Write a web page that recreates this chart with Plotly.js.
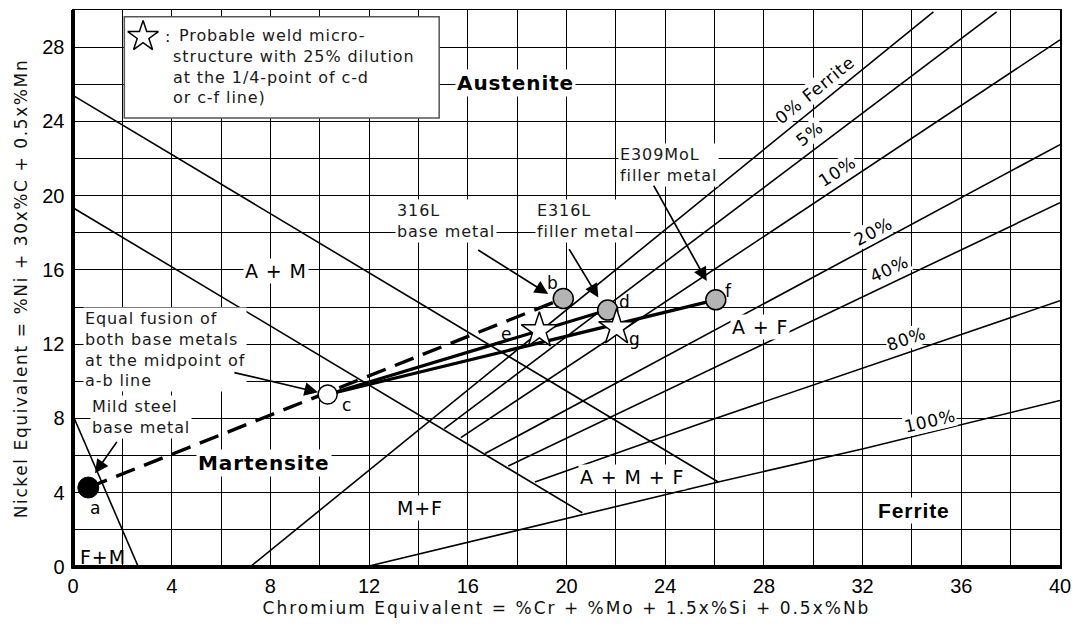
<!DOCTYPE html>
<html>
<head>
<meta charset="utf-8">
<script src="https://cdn.plot.ly/plotly-3.0.1.min.js"></script>
<style>
  html, body { margin: 0; padding: 0; background: #fff; }
  #chart { width: 1074px; height: 626px; }
  .annotation-text { letter-spacing: 0.9px; }
  .xtitle { letter-spacing: 2px; }
  .ytitle { letter-spacing: 1.6px; }
  .xgrid, .ygrid { shape-rendering: crispEdges; }
</style>
</head>
<body>
<div id="chart"></div>
<script>
// ---------- phase-boundary lines (Cr eq, Ni eq) ----------
const austMartX = [0, 26.15];      const austMartY = [25.4, 4.58];
const martLowerX = [0, 20.64];     const martLowerY = [19.35, 2.92];
const ferMartX = [0, 2.65];        const ferMartY = [8.16, 0];
const ferrite0X = [7.17, 34.87];   const ferrite0Y = [0, 29.9];
const ferrite5X = [15.05, 37.43];  const ferrite5Y = [7.45, 29.9];
const ferrite10X = [15.72, 40];    const ferrite10Y = [6.97, 28.39];
const ferrite20X = [16.70, 40];    const ferrite20Y = [6.11, 22.75];
const ferrite40X = [17.64, 40];    const ferrite40Y = [5.44, 19.62];
const ferrite80X = [18.72, 25.41, 40]; const ferrite80Y = [4.58, 7.72, 14.34];
const ferrite100X = [11.83, 26.15, 32.03, 40]; const ferrite100Y = [0, 4.58, 6.37, 8.97];

// ---------- metals ----------
const pointA = [0.62, 4.28];   // mild steel base metal
const pointB = [19.87, 14.46]; // 316L base metal
const pointC = [10.32, 9.29];  // equal fusion midpoint
const pointD = [21.67, 13.84]; // E316L filler
const pointF = [26.05, 14.39]; // E309MoL filler
const pointE = [18.90, 12.73]; // 25% dilution c-d
const pointG = [22.03, 12.90]; // 25% dilution c-f
const greyPtsX = [pointB[0], pointD[0], pointF[0]];
const greyPtsY = [pointB[1], pointD[1], pointF[1]];
const starPtsX = [pointE[0], pointG[0]];
const starPtsY = [pointE[1], pointG[1]];
const legendStar = [2.84, 28.57];

// point letters
const letterText = ['a','b','c','d','e','f','g'];
const letterX = [0.93, 19.45, 11.09, 22.37, 17.58, 26.56, 22.78];
const letterY = [3.17, 15.32, 8.70, 14.25, 12.55, 14.88, 12.28];

// region labels
const regionText = ['Austenite','A + M','Martensite','M+F','A + M + F','A + F','Ferrite','F+M'];
const regionX = [17.95, 8.23, 7.74, 14.06, 22.65, 27.84, 34.08, 1.22];
const regionY = [26.05, 15.95, 5.58, 3.17, 4.83, 12.90, 3.06, 0.56];

// ferrite % labels
const pctText = ['0% Ferrite','5%','10%','20%','40%','80%','100%'];
const pctX = [30.07, 29.83, 31.00, 32.46, 33.07, 33.76, 34.73];
const pctY = [25.67, 23.34, 21.32, 18.10, 16.06, 12.30, 7.84];
const pctAngle = [-39, -37, -33, -28, -25, -19, -13];

// callouts: text, text-left x, text centre y, arrow tail, arrow tip
const calloutText = ['Mild steel<br>base metal',
  'Equal fusion of<br>both base metals<br>at the midpoint of<br>a-b line',
  '316L<br>base metal', 'E316L<br>filler metal', 'E309MoL<br>filler metal'];
const calloutX = [0.69, 0.41, 13.05, 18.72, 22.09];
const calloutY = [8.08, 11.71, 18.64, 18.64, 21.67];
const arrowTailX = [1.82, 6.48, 16.36, 20.07, 23.50];
const arrowTailY = [6.82, 10.49, 17.12, 17.20, 20.62];
const arrowTipX = [0.89, 9.93, 19.26, 21.29, 25.68];
const arrowTipY = [5.05, 9.41, 14.70, 14.52, 15.41];

const xTicks = [0,4,8,12,16,20,24,28,32,36,40];
const yTicks = [0,4,8,12,16,20,24,28];

// ---------- traces ----------
const thin = {color:'#000', width:1.6};
function lineTrace(x, y, line){ return {type:'scatter', mode:'lines', x:x, y:y, line:line, hoverinfo:'skip', showlegend:false, cliponaxis:true}; }

const traces = [
  lineTrace(austMartX, austMartY, thin),
  lineTrace(martLowerX, martLowerY, thin),
  lineTrace(ferMartX, ferMartY, thin),
  lineTrace(ferrite0X, ferrite0Y, thin),
  lineTrace(ferrite5X, ferrite5Y, thin),
  lineTrace(ferrite10X, ferrite10Y, thin),
  lineTrace(ferrite20X, ferrite20Y, thin),
  lineTrace(ferrite40X, ferrite40Y, thin),
  lineTrace(ferrite80X, ferrite80Y, thin),
  lineTrace(ferrite100X, ferrite100Y, thin),
  lineTrace([pointA[0], pointB[0]], [pointA[1], pointB[1]], {color:'#000', width:3.4, dash:'20px,10px'}),
  lineTrace([pointC[0], pointD[0]], [pointC[1], pointD[1]], {color:'#000', width:3.2}),
  lineTrace([pointC[0], pointF[0]], [pointC[1], pointF[1]], {color:'#000', width:3.2}),
  {type:'scatter', mode:'markers', x:[pointA[0]], y:[pointA[1]], hoverinfo:'skip', showlegend:false,
   marker:{symbol:'circle', size:21, color:'#000', line:{color:'#000', width:1}}},
  {type:'scatter', mode:'markers', x:[pointC[0]], y:[pointC[1]], hoverinfo:'skip', showlegend:false,
   marker:{symbol:'circle', size:19, color:'#fff', line:{color:'#000', width:1.5}}},
  {type:'scatter', mode:'markers', x:greyPtsX, y:greyPtsY, hoverinfo:'skip', showlegend:false,
   marker:{symbol:'circle', size:20, color:'#b4b4b4', line:{color:'#000', width:1.5}}},
  {type:'scatter', mode:'markers', x:starPtsX, y:starPtsY, hoverinfo:'skip', showlegend:false,
   marker:{symbol:'star', size:27, color:'#fff', line:{color:'#000', width:1.5}}},
  {type:'scatter', mode:'markers', x:[legendStar[0]], y:[legendStar[1]], hoverinfo:'skip', showlegend:false,
   marker:{symbol:'star', size:23, color:'#fff', line:{color:'#000', width:1.5}}}
];

// ---------- annotations ----------
const annotations = [];
const labelFont = {family:'DejaVu Sans, Arial, sans-serif', size:16, color:'#1a1a1a'};

regionText.forEach(function(t, i){
  let font = {family:'DejaVu Sans, Arial, sans-serif', size:19, color:'#000'};
  if (t === 'Austenite' || t === 'Martensite') font = {family:'DejaVu Sans, Arial, sans-serif', size:20, color:'#000', weight:'bold'};
  if (t === 'Ferrite') font = {family:'Liberation Sans, Arial, sans-serif', size:21, color:'#000', weight:'bold'};
  annotations.push({x:regionX[i], y:regionY[i], xref:'x', yref:'y', text:t, showarrow:false,
    font:font, bgcolor:(t==='F+M' ? 'rgba(0,0,0,0)' : '#fff'), borderpad:1, xanchor:'center', yanchor:'middle'});
});

pctText.forEach(function(t, i){
  annotations.push({x:pctX[i], y:pctY[i], xref:'x', yref:'y', text:t, showarrow:false, textangle:pctAngle[i],
    font:{family:'DejaVu Sans, Arial, sans-serif', size:17, color:'#000'}, bgcolor:'#fff', borderpad:0});
});

calloutText.forEach(function(t, i){
  annotations.push({x:calloutX[i], y:calloutY[i], xref:'x', yref:'y', text:t, showarrow:false, align:'left',
    xanchor:'left', yanchor:'middle', font:labelFont, bgcolor:'#fff', borderpad:1});
  annotations.push({x:arrowTipX[i], y:arrowTipY[i], ax:arrowTailX[i], ay:arrowTailY[i], axref:'x', ayref:'y',
    xref:'x', yref:'y', text:'', showarrow:true, arrowhead:2, arrowsize:1.6, arrowwidth:1.7, arrowcolor:'#000', standoff:0});
});

letterText.forEach(function(t, i){
  annotations.push({x:letterX[i], y:letterY[i], xref:'x', yref:'y', text:t, showarrow:false,
    font:{family:'DejaVu Sans, Arial, sans-serif', size:17, color:'#000'}});
});

// legend box text
annotations.push({x:3.65, y:28.57, xref:'x', yref:'y', text:':', showarrow:false, xanchor:'left', yanchor:'middle', font:labelFont});
annotations.push({x:3.98, y:26.95, xref:'x', yref:'y', showarrow:false, xanchor:'left', yanchor:'middle', align:'left',
  text:'\u00a0Probable weld micro-<br>structure with 25% dilution<br>at the 1/4-point of c-d<br>or c-f line)', font:labelFont});

const shapes = [
  {type:'rect', xref:'x', yref:'y', x0:2.08, x1:14.84, y0:24.18, y1:29.64, fillcolor:'#fff', line:{color:'#555', width:1.5}, layer:'between'},
  {type:'line', xref:'paper', yref:'paper', x0:0, x1:0, y0:-0.003, y1:1, line:{color:'#000', width:4}},
  {type:'line', xref:'paper', yref:'paper', x0:0, x1:1, y0:0, y1:0, line:{color:'#000', width:4}}
];

const axisCommon = {
  showline:true, linecolor:'#000', linewidth:1.5, mirror:true, zeroline:false,
  showgrid:true, gridcolor:'#000', gridwidth:1,
  ticks:'', tickfont:{family:'Liberation Sans, Arial, sans-serif', size:20, color:'#000'},
  fixedrange:true
};

const layout = {
  width:1074, height:626,
  margin:{l:73, r:14, t:10, b:59},
  paper_bgcolor:'#fff', plot_bgcolor:'#fff',
  showlegend:false,
  xaxis:Object.assign({}, axisCommon, {
    range:[0,40], tickmode:'array', tickvals:xTicks, ticktext:xTicks.map(String), ticklabelstandoff:0,
    minor:{dtick:2, tick0:0, showgrid:true, gridcolor:'#000', gridwidth:1},
    title:{text:'Chromium Equivalent = %Cr + %Mo + 1.5x%Si + 0.5x%Nb', standoff:6,
      font:{family:'DejaVu Sans, Arial, sans-serif', size:17, color:'#111'}}
  }),
  yaxis:Object.assign({}, axisCommon, {
    range:[0,30], tickmode:'array', tickvals:yTicks, ticktext:yTicks.map(String), ticklabelstandoff:3,
    minor:{dtick:2, tick0:0, showgrid:true, gridcolor:'#000', gridwidth:1},
    title:{text:'Nickel Equivalent = %Ni + 30x%C + 0.5x%Mn', standoff:10,
      font:{family:'DejaVu Sans, Arial, sans-serif', size:17, color:'#111'}}
  }),
  annotations:annotations,
  shapes:shapes
};

Plotly.newPlot('chart', traces, layout, {staticPlot:true, displayModeBar:false});
</script>
</body>
</html>
